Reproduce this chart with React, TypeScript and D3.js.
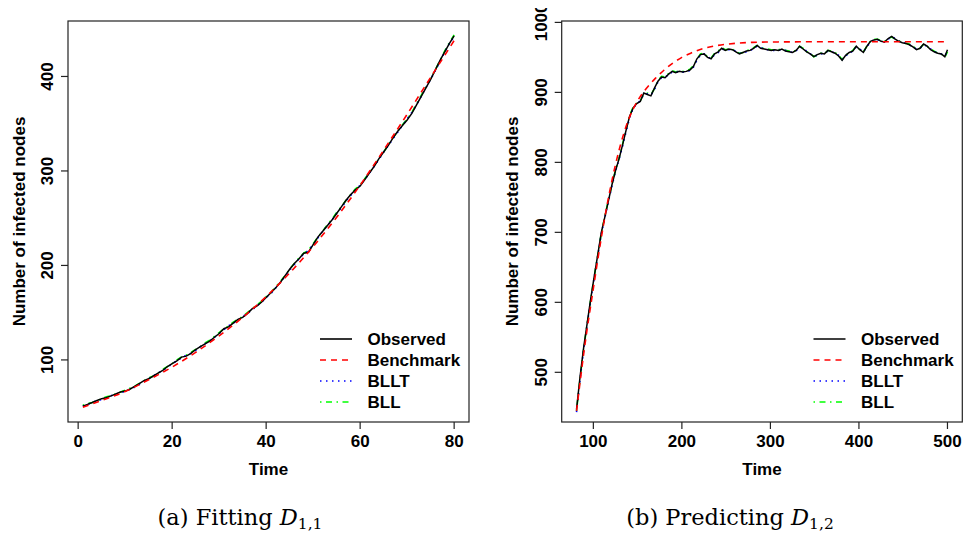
import React from "react";
import * as d3 from "d3";

// ---------- Data ----------
const leftTimes = d3.range(1, 81);
const leftObserved = [51,53,55,57,59,60,62,64,66,67,69,72,75,78,80,83,86,89,93,96,99,103,104,107,111,114,117,120,124,128,133,135,139,143,145,149,154,157,161,166,171,176,182,189,196,202,207,213,214,222,230,236,242,248,255,262,269,275,280,284,291,298,305,313,320,327,335,342,348,354,361,370,379,388,397,407,417,426,435,443];
const leftBLLT = [51,53,55,57,58,60,62,64,65,67,69,71,74,77,80,83,86,89,92,96,99,102,105,107,110,114,117,120,124,128,132,136,139,142,146,149,153,157,161,166,170,176,182,188,195,201,207,212,216,222,229,236,242,248,255,261,268,274,280,285,291,298,305,312,320,327,334,341,348,355,362,370,379,388,397,406,416,426,435,442];
const leftBLL = [52,54,55,57,59,61,62,64,66,68,70,72,75,78,81,83,86,90,93,96,100,103,105,108,111,114,118,121,125,129,133,136,140,143,146,150,154,158,162,167,171,177,183,189,196,202,208,213,216,223,230,236,243,249,256,262,269,275,281,285,292,298,306,313,320,328,335,342,349,355,362,371,380,389,398,407,417,427,436,444];
const leftBenchTimes = [1,5,10,15,20,25,30,35,40,45,50,55,60,65,70,75,80];
const leftBench = [50,57,66.5,79,92.5,108,125.5,145,167,192,220,251,285,322,360,399,438];

const rightTimes = [...d3.range(81, 500, 4), 500];
const rightObserved = [447,494,535,570,605,637,668,700,722,745, 768,788,805,825,846,866,878,884,887,899, 897,895,906,916,922,921,926,930,928,930, 929,930,932,937,948,954,955,950,948,955, 958,963,960,962,961,958,955,957,959,960, 963,967,963,962,961,960,961,960,962,959, 958,957,960,966,962,958,955,951,954,956, 955,960,958,956,952,946,953,957,959,966, 961,957,966,973,975,976,973,972,977,980, 976,973,971,970,968,965,961,963,969,966, 961,958,956,955,951,961];
const rightBLLT = [443,490,532,568,603,636,666,698,721,744, 766,787,804,823,844,864,877,884,888,897, 898,896,904,915,921,922,925,929,929,930, 929,930,931,936,946,953,955,951,948,954, 957,962,961,961,961,959,956,956,958,960, 962,966,964,962,961,960,960,960,961,960, 958,957,959,965,963,959,955,952,953,955, 956,959,958,956,953,947,952,956,959,965, 962,958,965,972,975,975,974,972,976,979, 977,973,972,970,968,965,962,963,968,966, 962,958,956,955,952,959];
const rightBLL = [445,492,533,569,604,637,667,699,723,746, 768,789,806,826,847,867,879,885,888,898, 899,897,905,917,923,922,927,931,929,931, 930,931,933,938,947,955,956,951,949,956, 959,964,961,962,962,958,956,957,960,961, 964,967,964,963,962,961,961,961,962,960, 959,958,960,966,963,958,956,951,953,956, 955,960,959,957,953,947,953,957,960,966, 961,958,966,973,976,976,974,973,977,979, 976,974,971,970,969,966,962,963,969,966, 962,959,956,955,950,958];
const rightBenchTimes = [81,90,100,110,120,130,140,150,160,170,180,190,200,210,220,230,240,260,280,300,350,400,450,500];
const rightBench = [445,535,620,700,768,822,862,888,906,920,932,942,950,956,961,964.5,967,970,971.5,972,972.3,972.3,972.3,972.3];

const leftXTicks = [0, 20, 40, 60, 80];
const leftYTicks = [100, 200, 300, 400];
const rightXTicks = [100, 200, 300, 400, 500];
const rightYTicks = [500, 600, 700, 800, 900, 1000];

const legendLabels = ["Observed", "Benchmark", "BLLT", "BLL"];
const seriesColors = ["#000000", "#FF0000", "#0000FF", "#00FF00"];
const seriesDash = ["none", "6,5", "1.5,4.5", "1.5,4.5,6,4.5"];

const FONT = "'Liberation Sans', Arial, Helvetica, sans-serif";

type PanelProps = {
  xDomain: [number, number];
  yDomain: [number, number];
  xRange: [number, number];
  yRange: [number, number];
  xTicks: number[];
  yTicks: number[];
  times: number[];
  observed: number[];
  bllt: number[];
  bll: number[];
  benchTimes: number[];
  bench: number[];
  legendX: number;
  yTitleX: number;
  yTickX: number;
  clipId?: string;
};

function Panel(p: PanelProps) {
  const x = d3.scaleLinear().domain(p.xDomain).range(p.xRange);
  const y = d3.scaleLinear().domain(p.yDomain).range(p.yRange);
  const line = d3
    .line<[number, number]>()
    .x((d) => x(d[0]))
    .y((d) => y(d[1]));
  const smooth = d3
    .line<[number, number]>()
    .x((d) => x(d[0]))
    .y((d) => y(d[1]))
    .curve(d3.curveMonotoneX);
  const pts = (ts: number[], vs: number[]) => ts.map((t, i) => [t, vs[i]] as [number, number]);
  const [x0, x1] = p.xRange;
  const [yb, yt] = p.yRange;
  const tickLen = 7;
  const cx = (x0 + x1) / 2;
  const cy = (yb + yt) / 2;
  const legendRows = [339, 360, 381, 402];
  return (
    <g>
      {/* series */}
      <path d={line(pts(p.times, p.bll)) || ""} fill="none" stroke={seriesColors[3]} strokeWidth={1.6} strokeDasharray={seriesDash[3]} />
      <path d={line(pts(p.times, p.bllt)) || ""} fill="none" stroke={seriesColors[2]} strokeWidth={1.6} strokeDasharray={seriesDash[2]} />
      <path d={line(pts(p.times, p.observed)) || ""} fill="none" stroke={seriesColors[0]} strokeWidth={1.5} />
      <path d={smooth(pts(p.benchTimes, p.bench)) || ""} fill="none" stroke={seriesColors[1]} strokeWidth={1.6} strokeDasharray={seriesDash[1]} />
      {/* box */}
      <rect x={x0} y={yt} width={x1 - x0} height={yb - yt} fill="none" stroke="#222" strokeWidth={1.2} />
      {/* x axis */}
      {p.xTicks.map((t) => (
        <g key={"x" + t}>
          <line x1={x(t)} x2={x(t)} y1={yb} y2={yb + tickLen} stroke="#222" strokeWidth={1.2} />
          <text x={x(t)} y={yb + 25} textAnchor="middle" fontFamily={FONT} fontWeight="bold" fontSize={17}>{t}</text>
        </g>
      ))}
      {/* y axis */}
      <g clipPath={p.clipId ? `url(#${p.clipId})` : undefined}>
        {p.yTicks.map((t) => (
          <g key={"y" + t}>
            <line x1={x0 - tickLen} x2={x0} y1={y(t)} y2={y(t)} stroke="#222" strokeWidth={1.2} />
            <text transform={`translate(${p.yTickX},${y(t)}) rotate(-90)`} textAnchor="middle" fontFamily={FONT} fontWeight="bold" fontSize={17}>{t}</text>
          </g>
        ))}
      </g>
      <text x={cx} y={475} textAnchor="middle" fontFamily={FONT} fontWeight="bold" fontSize={17}>Time</text>
      <text transform={`translate(${p.yTitleX},${cy}) rotate(-90)`} textAnchor="middle" fontFamily={FONT} fontWeight="bold" fontSize={17}>Number of infected nodes</text>
      {/* legend */}
      {legendLabels.map((lab, i) => (
        <g key={lab}>
          <line x1={p.legendX} x2={p.legendX + 32} y1={legendRows[i]} y2={legendRows[i]} stroke={seriesColors[i]} strokeWidth={1.6} strokeDasharray={seriesDash[i]} />
          <text x={p.legendX + 47.5} y={legendRows[i] + 6} fontFamily={FONT} fontWeight="bold" fontSize={17}>{lab}</text>
        </g>
      ))}
    </g>
  );
}

function Caption({ x, label, sub }: { x: number; label: string; sub: string }) {
  return (
    <text x={x} y={525} textAnchor="middle" fontFamily="'DejaVu Serif', 'Liberation Serif', serif" fontSize={22.5}>
      {label}
      <tspan fontStyle="italic">D</tspan>
      <tspan fontSize={15.5} dy={4}>{sub}</tspan>
    </text>
  );
}

export default function App() {
  return (
    <svg width={963} height={539} style={{ position: "absolute", left: 0, top: 0, background: "#fff" }}>
      <defs>
        <clipPath id="rclip">
          <rect x={0} y={8} width={963} height={531} />
        </clipPath>
      </defs>
      <rect x={0} y={0} width={963} height={539} fill="#fff" />
      <Panel
        xDomain={[-2.16, 83.16]}
        yDomain={[34.3, 458.7]}
        xRange={[68, 469]}
        yRange={[422, 21]}
        xTicks={leftXTicks}
        yTicks={leftYTicks}
        times={leftTimes}
        observed={leftObserved}
        bllt={leftBLLT}
        bll={leftBLL}
        benchTimes={leftBenchTimes}
        bench={leftBench}
        legendX={320}
        yTitleX={25}
        yTickX={53}
      />
      <Panel
        xDomain={[64.24, 516.76]}
        yDomain={[429, 1002]}
        xRange={[561.7, 962.3]}
        yRange={[422, 21]}
        xTicks={rightXTicks}
        yTicks={rightYTicks}
        times={rightTimes}
        observed={rightObserved}
        bllt={rightBLLT}
        bll={rightBLL}
        benchTimes={rightBenchTimes}
        bench={rightBench}
        legendX={813.5}
        yTitleX={518}
        yTickX={547}
        clipId="rclip"
      />
      <Caption x={240} label="(a) Fitting " sub="1,1" />
      <Caption x={730} label="(b) Predicting " sub="1,2" />
    </svg>
  );
}
